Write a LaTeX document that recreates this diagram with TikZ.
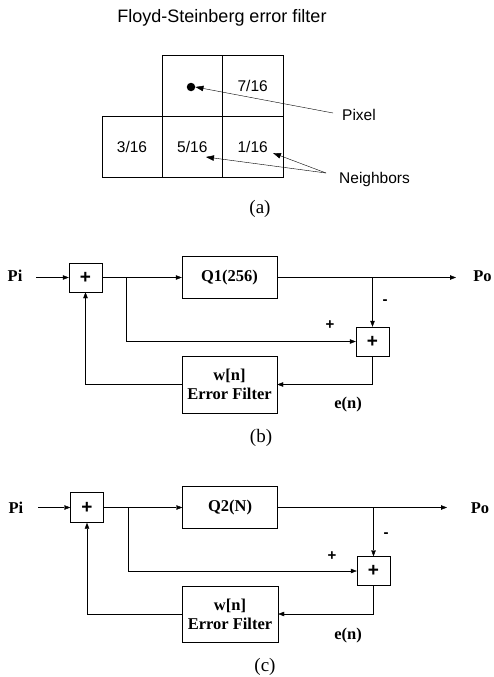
\documentclass[tikz,border=0pt]{standalone}
\usepackage{fontspec}
\setmainfont{Liberation Serif}
\newfontfamily\arialf{Liberation Sans}
\usetikzlibrary{arrows.meta}
\tikzset{
  x=1pt, y=-1pt,
  line width=1.05pt,
  cell/.style={draw, inner sep=0pt, minimum width=60.5pt, minimum height=61pt, font=\arialf\fontsize{15.5}{15.5}\selectfont},
  lab/.style={inner sep=1pt, font=\arialf\fontsize{15.5}{15.5}\selectfont},
  ptr/.style={-{Triangle[length=8pt,width=5.5pt]}},
  sig/.style={-{Triangle[length=6pt,width=4.5pt]}},
  sumbox/.style={draw, inner sep=0pt, minimum width=33pt, minimum height=29pt, font=\arialf\bfseries\fontsize{19}{19}\selectfont},
  blk/.style={draw, inner sep=0pt, minimum width=95pt, font=\bfseries\fontsize{16.5}{19}\selectfont, align=center},
  tb/.style={inner sep=1pt, font=\bfseries\fontsize{16.5}{16.5}\selectfont},
  sgn/.style={inner sep=0pt, font=\arialf\bfseries\fontsize{15}{15}\selectfont},
  subcap/.style={inner sep=0pt, font=\fontsize{19}{19}\selectfont}
}
\begin{document}
\begin{tikzpicture}
\useasboundingbox (0,0) rectangle (494,677);
% ---------- (a) ----------
\node[lab, font=\arialf\fontsize{18}{18}\selectfont] (title) at (222,18) {Floyd-Steinberg error filter};
\node[cell] (ctm) at (192.3,86) {};
\node[cell] (ctr) at (252.7,86) {7/16};
\node[cell] (cbl) at (132,147) {3/16};
\node[cell] (cbm) at (192.3,147) {5/16};
\node[cell] (cbr) at (252.7,147) {1/16};
\node[circle, fill, inner sep=0pt, minimum size=8.5pt] (dot) at (191,87) {};
\node[lab, anchor=west] (pix) at (341,115) {Pixel};
\coordinate (pixs) at (333,113);
\draw[ptr] (pixs) -- (dot.east);
\node[lab, anchor=west] (nb) at (338,179) {Neighbors};
\coordinate (nbs) at (326,173);
\coordinate (t5) at (206,157);
\coordinate (t1) at (273,153);
\draw[ptr] (nbs) -- (t5);
\draw[ptr] (nbs) -- (t1);
\node[subcap] (capa) at (260,209) {(a)};
% ---------- (b) ----------
\node[tb] (bpi) at (15,276) {Pi};
\node[sumbox] (bs1) at (85.5,277.5) {+};
\node[blk, minimum height=42pt] (bq) at (229.5,277.5) {Q1(256)};
\coordinate (bin) at (36,277.5);
\coordinate (bout) at (456,277.5);
\node[tb] (bpo) at (482.5,276) {Po};
\node[sumbox] (bs2) at (372.5,341.5) {+};
\node[blk, minimum height=57pt] (bf) at (229.5,384.5) {w[n]\\Error Filter};
\coordinate (bbr) at (126,277.5);
\coordinate (btap) at (372.5,277.5);
\draw[sig] (bin) -- (bs1.west);
\draw[sig] (bs1.east) -- (bq.west);
\draw[sig] (bq.east) -- (bout);
\draw[sig] (btap) -- (bs2.north);
\draw[sig] (bbr) |- (bs2.west);
\draw[sig] (bs2.south) |- (bf.east);
\draw[sig] (bf.west) -| (bs1.south);
\node[sgn] (bminus) at (385,302) {-};
\node[sgn] (bplus) at (330,325) {+};
\node[tb] (ben) at (348,405) {e(n)};
\node[subcap] (capb) at (261,438) {(b)};
% ---------- (c) ----------
\node[tb] (cpi) at (16,508) {Pi};
\node[sumbox, minimum height=30pt] (cs1) at (87,507.5) {+};
\node[blk, minimum height=42pt] (cq) at (230,507.5) {Q2(N)};
\coordinate (cin) at (38,507.5);
\coordinate (cout) at (447,507.5);
\node[tb] (cpo) at (480,508) {Po};
\node[sumbox] (cs2) at (373.5,571) {+};
\node[blk, minimum width=96pt, minimum height=56pt] (cf) at (230,614) {w[n]\\Error Filter};
\coordinate (cbr) at (128,507.5);
\coordinate (ctap) at (373.5,507.5);
\draw[sig] (cin) -- (cs1.west);
\draw[sig] (cs1.east) -- (cq.west);
\draw[sig] (cq.east) -- (cout);
\draw[sig] (ctap) -- (cs2.north);
\draw[sig] (cbr) |- (cs2.west);
\draw[sig] (cs2.south) |- (cf.east);
\draw[sig] (cf.west) -| (cs1.south);
\node[sgn] (cminus) at (386,535) {-};
\node[sgn] (cplus) at (332,556) {+};
\node[tb] (cen) at (348,636) {e(n)};
\node[subcap] (capc) at (265,667) {(c)};
\end{tikzpicture}
\end{document}
